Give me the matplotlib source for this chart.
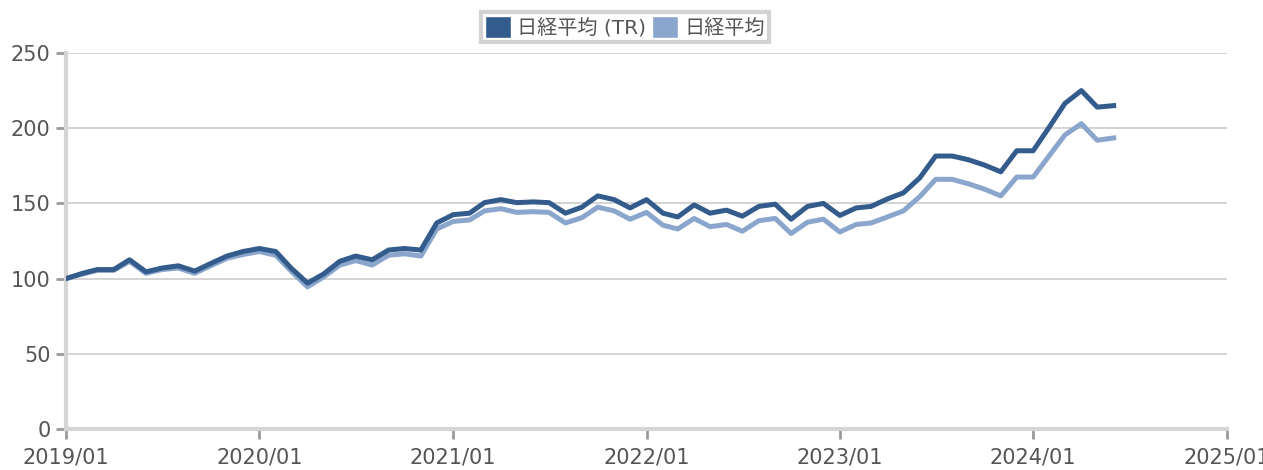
import numpy as np
import pandas as pd
import matplotlib
matplotlib.use("Agg")
import matplotlib.pyplot as plt
from matplotlib.patches import Patch

plt.rcParams['font.family'] = ['DejaVu Sans', 'Noto Sans CJK JP']

# monthly values, 2019/01 - 2024/06
start = "2019-01-01"
tr_label = "日経平均 (TR)"
px_label = "日経平均"
nikkei_tr = [100, 103.5, 106, 106, 112.5, 104.5, 107, 108.5, 105, 110, 115, 118,
             120, 118, 107, 97, 103, 111.5, 115, 112.5, 119, 120, 119, 137,
             142.5, 143.5, 150.5, 152.5, 150.5, 151, 150.5, 143.5, 147.5, 155, 152.5, 147,
             152.5, 143.5, 141, 149, 143.5, 145.5, 141.5, 148, 149.5, 139.5, 148, 150,
             142, 147, 148, 153, 157, 167, 181.5, 181.5, 179, 175.5, 171, 185,
             185, 201, 216.5, 225, 214, 215]
nikkei = [100, 103, 105.5, 105.5, 111.5, 103.5, 106, 107, 103.5, 108.5, 113.5, 116,
          118, 115.5, 105, 94.5, 101, 109, 112, 109, 115.5, 116.5, 115, 133,
          138, 139, 145, 146.5, 144, 144.5, 144, 137, 140.5, 147.5, 145, 139.5,
          144, 135.5, 133, 140, 134.5, 136, 131.5, 138.5, 140, 130, 137.5, 139.5,
          131, 136, 137, 141, 145, 154.5, 166, 166, 163, 159.5, 155, 167.5,
          167.5, 182, 195.5, 203, 192, 193.5]
tick_years = [2019, 2020, 2021, 2022, 2023, 2024, 2025]

dates = pd.date_range(start, periods=len(nikkei_tr), freq="MS")
dark = "#335b8c"
light = "#8ba6cd"

fig = plt.figure(figsize=(12.63, 4.70), dpi=100)
ax = fig.add_axes([66 / 1263, 1 - 429 / 470, (1227 - 66) / 1263, (429 - 53) / 470])

ax.plot(dates, nikkei, color=light, lw=3.6, solid_joinstyle="round", zorder=3)
ax.plot(dates, nikkei_tr, color=dark, lw=3.6, solid_joinstyle="round", zorder=4)

ax.set_ylim(0, 250)
ax.set_yticks([0, 50, 100, 150, 200, 250])
ticks = [pd.Timestamp(f"{y}-01-01") for y in tick_years]
ax.set_xlim(ticks[0], ticks[-1])
ax.set_xticks(ticks)
ax.set_xticklabels([f"{y}/01" for y in tick_years])

ax.grid(axis="y", color="#cccccc", lw=1.2)
ax.set_axisbelow(True)
for s in ["top", "right"]:
    ax.spines[s].set_visible(False)
for s in ["left", "bottom"]:
    ax.spines[s].set_color("#d5d5d5")
    ax.spines[s].set_linewidth(3)
ax.tick_params(axis="both", colors="#999999", labelcolor="#555555", labelsize=15, width=2, length=7)
ax.tick_params(axis="x", pad=6)
ax.tick_params(axis="y", pad=4)

handles = [Patch(facecolor=dark, edgecolor="white", lw=1), Patch(facecolor=light, edgecolor="white", lw=1)]
leg = fig.legend(handles, [tr_label, px_label], loc="center", bbox_to_anchor=(625 / 1263, 1 - 27 / 470),
                 ncol=2, fontsize=14.5, frameon=True, fancybox=False, handlelength=1.3, handleheight=1.3,
                 handletextpad=0.3, columnspacing=0.3, borderpad=0.2, labelcolor="#555555")
leg.get_frame().set_edgecolor("#c8c8c8")
leg.get_frame().set_linewidth(3)

fig.savefig("out.png", dpi=100)
